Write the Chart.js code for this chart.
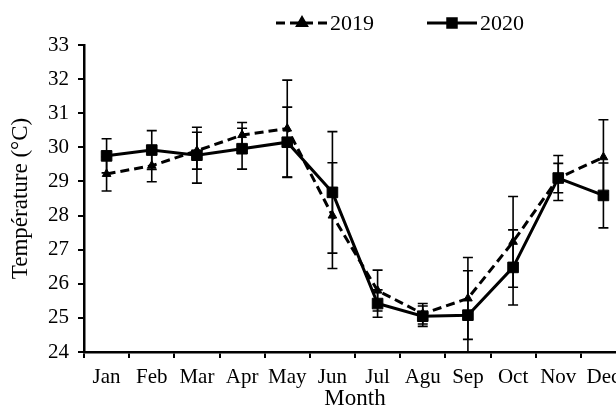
<!DOCTYPE html>
<html>
<head>
<meta charset="utf-8">
<script src="https://cdn.jsdelivr.net/npm/chart.js@4.4.0/dist/chart.umd.min.js"></script>
<style>
  html, body { margin: 0; padding: 0; background: #ffffff; overflow: hidden; }
  #wrap { width: 640px; height: 410px; }
</style>
</head>
<body>
<div id="wrap"><canvas id="tempChart" width="640" height="410"></canvas></div>
<script>
/*****************************************************************
 *                          CHART DATA
 *****************************************************************/
const months = ["Jan", "Feb", "Mar", "Apr", "May", "Jun", "Jul", "Agu", "Sep", "Oct", "Nov", "Dec"];
const temp2019 = [29.22, 29.46, 29.90, 30.36, 30.55, 28.00, 25.80, 25.12, 25.57, 27.23, 29.10, 29.71];
const err2019 = [0.50, 0.47, 0.54, 0.37, 1.42, 1.55, 0.60, 0.30, 1.20, 1.33, 0.43, 1.10];
const temp2020 = [29.75, 29.92, 29.77, 29.96, 30.15, 28.68, 25.42, 25.05, 25.08, 26.48, 29.10, 28.59];
const err2020 = [0.50, 0.57, 0.82, 0.60, 1.03, 1.78, 0.40, 0.30, 1.30, 1.10, 0.66, 0.95];
const yMin = 24;
const yMax = 33;

/*****************************************************************
 *                        CHART SETTINGS
 *****************************************************************/
const chartSettings = {
  fontFamily: "'Liberation Serif', 'Times New Roman', serif",
  tickSize: 21,
  titleSize: 23,
  legendSize: 22,
  xAxisTitle: "Month",
  yAxisTitle: "Température (°C)",
  ink: "#000000",
};

/*****************************************************************
 *                           PLUGINS
 *****************************************************************/
// vertical error bars with caps, drawn under the markers
const errorBarPlugin = {
  id: "errorBars",
  beforeDatasetsDraw(chart) {
    const ctx = chart.ctx;
    const area = chart.chartArea;
    const yScale = chart.scales.y;
    ctx.save();
    ctx.beginPath();
    ctx.rect(area.left, area.top - 20, area.right - area.left, area.bottom - area.top + 20);
    ctx.clip();
    ctx.strokeStyle = chartSettings.ink;
    ctx.lineWidth = 1.6;
    chart.data.datasets.forEach((ds, i) => {
      const meta = chart.getDatasetMeta(i);
      meta.data.forEach((pt, j) => {
        const v = ds.data[j];
        const e = ds.errors[j];
        const yTop = yScale.getPixelForValue(v + e);
        const yBot = yScale.getPixelForValue(v - e);
        ctx.beginPath();
        ctx.moveTo(pt.x, yTop);
        ctx.lineTo(pt.x, yBot);
        ctx.moveTo(pt.x - 5, yTop);
        ctx.lineTo(pt.x + 5, yTop);
        ctx.moveTo(pt.x - 5, yBot);
        ctx.lineTo(pt.x + 5, yBot);
        ctx.stroke();
      });
    });
    ctx.restore();
  },
};

// legend: line sample with marker, then the label
const lineLegendPlugin = {
  id: "lineLegend",
  afterDraw(chart) {
    const ctx = chart.ctx;
    const items = [
      { ds: chart.data.datasets[0], x0: 276, x1: 328, tx: 330 },
      { ds: chart.data.datasets[1], x0: 427, x1: 477, tx: 480 },
    ];
    const yc = 23;
    ctx.save();
    items.forEach((it) => {
      ctx.strokeStyle = chartSettings.ink;
      ctx.lineWidth = 3;
      ctx.setLineDash(it.ds.borderDash || []);
      ctx.beginPath();
      ctx.moveTo(it.x0, yc);
      ctx.lineTo(it.x1, yc);
      ctx.stroke();
      ctx.setLineDash([]);
      Chart.helpers.drawPoint(ctx, {
        pointStyle: it.ds.pointStyle,
        radius: it.ds.pointStyle === "rect" ? 6 : 5,
        rotation: 0,
        borderWidth: 1,
      }, (it.x0 + it.x1) / 2, yc);
      ctx.fillStyle = chartSettings.ink;
      ctx.fill();
      ctx.font = chartSettings.legendSize + "px " + chartSettings.fontFamily;
      ctx.textBaseline = "middle";
      ctx.textAlign = "left";
      ctx.fillText(it.ds.label, it.tx, yc + 1);
    });
    ctx.restore();
  },
};

/*****************************************************************
 *                        SCALE OPTIONS
 *****************************************************************/
function getXScale() {
  return {
    type: "category",
    offset: true,
    grid: {
      offset: true,
      drawOnChartArea: false,
      drawTicks: true,
      tickLength: 6,
      color: chartSettings.ink,
      lineWidth: 2,
    },
    border: { display: true, color: chartSettings.ink, width: 2.5 },
    ticks: {
      color: chartSettings.ink,
      padding: 7,
      maxRotation: 0,
      autoSkip: false,
      font: { family: chartSettings.fontFamily, size: chartSettings.tickSize },
    },
    title: {
      display: true,
      text: chartSettings.xAxisTitle,
      color: chartSettings.ink,
      padding: { top: 0, bottom: 0 },
      font: { family: chartSettings.fontFamily, size: chartSettings.titleSize, lineHeight: 1 },
    },
    afterFit(scale) { scale.height = 58; },
  };
}

function getYScale() {
  return {
    min: yMin,
    max: yMax,
    grid: {
      drawOnChartArea: false,
      drawTicks: true,
      tickLength: 6,
      color: chartSettings.ink,
      lineWidth: 2,
    },
    border: { display: true, color: chartSettings.ink, width: 2.5 },
    ticks: {
      stepSize: 1,
      color: chartSettings.ink,
      padding: 9,
      font: { family: chartSettings.fontFamily, size: chartSettings.tickSize },
    },
    title: {
      display: true,
      text: chartSettings.yAxisTitle,
      color: chartSettings.ink,
      padding: { top: 9, bottom: 0 },
      font: { family: chartSettings.fontFamily, size: chartSettings.titleSize, lineHeight: 1 },
    },
    afterFit(scale) { scale.width = 84; },
  };
}

/*****************************************************************
 *                        RENDER THE CHART
 *****************************************************************/
function getChartData() {
  return {
    labels: months,
    datasets: [
      {
        label: "2019",
        data: temp2019,
        errors: err2019,
        borderColor: chartSettings.ink,
        backgroundColor: chartSettings.ink,
        borderWidth: 3,
        borderDash: [9, 5],
        pointStyle: "triangle",
        pointRadius: 5,
        pointBorderWidth: 1,
        tension: 0,
      },
      {
        label: "2020",
        data: temp2020,
        errors: err2020,
        borderColor: chartSettings.ink,
        backgroundColor: chartSettings.ink,
        borderWidth: 3,
        pointStyle: "rect",
        pointRadius: 7.5,
        pointBorderWidth: 1,
        tension: 0,
      },
    ],
  };
}

new Chart(document.getElementById("tempChart"), {
  type: "line",
  data: getChartData(),
  options: {
    responsive: false,
    animation: false,
    devicePixelRatio: 1,
    layout: { padding: { top: 45, right: 14, bottom: 0, left: 0 } },
    scales: { x: getXScale(), y: getYScale() },
    plugins: {
      legend: { display: false },
      title: { display: false },
      tooltip: { enabled: false },
    },
  },
  plugins: [errorBarPlugin, lineLegendPlugin],
});
</script>
</body>
</html>
